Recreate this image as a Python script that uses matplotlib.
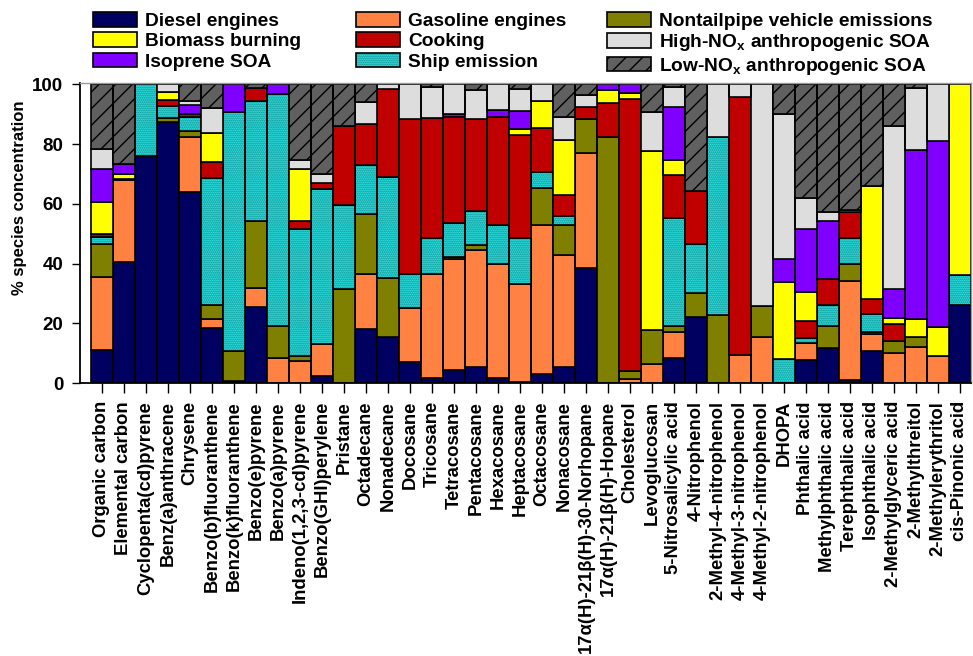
import numpy as np
import matplotlib.pyplot as plt
from matplotlib.patches import Patch

plt.rcParams['font.family'] = ['Liberation Sans', 'DejaVu Sans']
plt.rcParams['font.weight'] = 'bold'
plt.rcParams['mathtext.fontset'] = 'custom'
plt.rcParams['mathtext.rm'] = 'Liberation Sans:bold'
plt.rcParams['mathtext.bf'] = 'Liberation Sans:bold'
plt.rcParams['hatch.linewidth'] = 1.0

species = ['Organic carbon', 'Elemental carbon', 'Cyclopenta(cd)pyrene',
           'Benz(a)anthracene', 'Chrysene', 'Benzo(b)fluoranthene',
           'Benzo(k)fluoranthene', 'Benzo(e)pyrene', 'Benzo(a)pyrene',
           'Indeno(1,2,3-cd)pyrene', 'Benzo(GHI)perylene', 'Pristane',
           'Octadecane', 'Nonadecane', 'Docosane', 'Tricosane', 'Tetracosane',
           'Pentacosane', 'Hexacosane', 'Heptacosane', 'Octacosane',
           'Nonacosane', '17α(H)-21β(H)-30-Norhopane', '17α(H)-21β(H)-Hopane',
           'Cholesterol', 'Levoglucosan', '5-Nitrosalicylic acid',
           '4-Nitrophenol', '2-Methyl-4-nitrophenol', '4-Methyl-3-nitrophenol',
           '4-Methyl-2-nitrophenol', 'DHOPA', 'Phthalic acid',
           'Methylphthalic acid', 'Terephthalic acid', 'Isophthalic acid',
           '2-Methylglyceric acid', '2-Methylthreitol', '2-Methylerythritol',
           'cis-Pinonic acid']

# % contribution of each source, stacked bottom -> top
diesel = [11.2, 40.5, 76.1, 87.5, 63.8, 18.3, 0.8, 25.4, 0, 0,
          2.5, 0, 18.1, 15.3, 6.9, 1.6, 4.5, 5.3, 1.6, 0.4,
          3.0, 5.5, 38.6, 0, 0, 0, 8.3, 22.0, 0, 0,
          0, 0, 7.7, 11.6, 1.0, 10.6, 0, 0, 0, 26.2]
gasoline = [24.3, 27.4, 0, 0, 18.5, 3.2, 0, 6.4, 8.3, 7.5,
            10.6, 0, 18.3, 0, 18.3, 34.8, 37.1, 39.1, 38.1, 32.6,
            50.0, 37.2, 38.5, 0, 1.3, 6.4, 8.9, 0, 0, 9.5,
            15.5, 0, 5.6, 0, 33.0, 5.8, 10.1, 12.0, 9.2, 0]
nontailpipe = [11.1, 0.3, 0, 1.1, 2.0, 4.7, 9.9, 22.5, 10.7, 1.7,
               0, 31.5, 20.3, 19.8, 0, 0, 0.5, 1.9, 0, 0,
               12.3, 10.3, 11.3, 82.4, 2.8, 11.4, 1.8, 8.2, 22.8, 0,
               10.2, 0, 0, 7.4, 5.7, 0.8, 3.8, 3.5, 0, 0]
ship = [2.3, 0, 23.9, 4.2, 4.8, 42.3, 79.9, 40.1, 77.6, 42.5,
        52.0, 28.0, 16.2, 33.9, 11.4, 12.1, 11.3, 11.2, 13.1, 15.5,
        5.2, 2.8, 0, 0, 0, 0, 36.3, 16.4, 59.6, 0,
        0, 8.1, 1.8, 7.2, 9.0, 6.0, 0, 0, 0, 10.0]
cooking = [1.1, 0, 0, 1.9, 0.8, 5.5, 0, 4.3, 0, 2.6,
           1.7, 26.6, 13.8, 29.4, 51.8, 40.3, 35.7, 30.8, 36.3, 34.5,
           15.0, 7.1, 3.9, 11.4, 90.9, 0, 14.5, 17.6, 0, 86.4,
           0, 0, 5.8, 8.5, 8.6, 5.0, 5.9, 0, 0, 0]
biomass = [10.6, 1.7, 0, 2.8, 0, 9.6, 0, 0, 0, 17.3,
           0, 0, 0, 0, 0, 0, 0, 0, 0, 2.2,
           8.9, 18.6, 0, 4.3, 2.0, 59.8, 5.0, 0, 0, 0,
           0, 25.7, 9.5, 0, 0.6, 37.7, 2.0, 6.0, 9.5, 63.8]
isoprene = [10.9, 3.4, 0, 0, 3.2, 0, 9.4, 0, 3.4, 0,
            0, 0, 0, 0, 0, 0, 0.9, 0, 2.3, 5.9,
            0, 0, 0, 1.9, 3.0, 0, 17.5, 0, 0, 0,
            0, 7.8, 21.3, 19.4, 0, 0, 9.7, 56.5, 62.4, 0]
high_nox = [6.8, 0, 0, 2.5, 1.3, 8.6, 0, 0, 0, 3.0,
            3.3, 0, 7.5, 1.6, 11.6, 10.3, 10.0, 9.8, 8.6, 7.3,
            5.6, 7.6, 4.1, 0, 0, 13.2, 6.9, 0, 17.6, 4.1,
            74.3, 48.4, 10.3, 3.2, 0, 0, 54.6, 20.7, 18.9, 0]
low_nox = [21.7, 26.7, 0, 0, 5.6, 7.8, 0, 1.3, 0, 25.4,
           29.9, 13.9, 5.8, 0, 0, 0.9, 0, 1.9, 0, 1.6,
           0, 10.9, 3.6, 0, 0, 9.2, 0.8, 35.8, 0, 0,
           0, 10.0, 38.0, 42.7, 42.1, 34.1, 13.9, 1.3, 0, 0]

# name, values, face colour, hatch, hatch colour
sources = [
    ('Diesel engines', diesel, '#000060', None, '#000060'),
    ('Gasoline engines', gasoline, '#FF8243', None, '#FF8243'),
    ('Nontailpipe vehicle emissions', nontailpipe, '#808000', None, '#808000'),
    ('Ship emission', ship, '#33FFFF', '........', '#0E7272'),
    ('Cooking', cooking, '#C00000', None, '#C00000'),
    ('Biomass burning', biomass, '#FFFF00', None, '#FFFF00'),
    ('Isoprene SOA', isoprene, '#8000FF', None, '#8000FF'),
    (r'High-NO$_{\mathbf{x}}$ anthropogenic SOA', high_nox, '#DDDDDD', None, '#DDDDDD'),
    (r'Low-NO$_{\mathbf{x}}$ anthropogenic SOA', low_nox, '#606060', '//', 'black'),
]

fig = plt.figure(figsize=(9.73, 6.56), dpi=100)
ax = fig.add_axes([80 / 973, 273 / 656, 891 / 973, 300.5 / 656])

x = np.arange(len(species))
bottom = np.zeros(len(species))
handles = {}
for name, vals, fc, hatch, hc in sources:
    vals = np.array(vals, dtype=float)
    m = vals > 0
    ax.bar(x[m], vals[m], 1.0, bottom=bottom[m], facecolor=fc,
           edgecolor=hc, hatch=hatch, linewidth=0)
    ax.bar(x[m], vals[m], 1.0, bottom=bottom[m], fill=False,
           edgecolor='black', linewidth=1.2)
    bottom += vals
    fill = Patch(facecolor=fc, edgecolor=hc, hatch=hatch, linewidth=0)
    edge = Patch(fill=False, edgecolor='black', linewidth=1.2)
    handles[name] = (fill, edge)

ax.set_xlim(-1.0, 39.5)
ax.set_ylim(0, 100.6)
ax.set_yticks([0, 20, 40, 60, 80, 100])
ax.set_xticks(x)
ax.set_xticklabels(species, rotation=90, fontsize=13.3)
ax.tick_params(axis='x', direction='out', length=7, width=1.0, pad=6)
ax.tick_params(axis='y', direction='out', length=6, width=1.0, pad=6,
               labelsize=13.5)
ax.set_ylabel('% species concentration', fontsize=12, fontweight='bold')
ax.yaxis.set_label_coords(-0.059, 0.615)

for side in ['top', 'right']:
    ax.spines[side].set_color('#999999')
    ax.spines[side].set_linewidth(1.0)
for side in ['left', 'bottom']:
    ax.spines[side].set_linewidth(1.3)

names = [s[0] for s in sources]
columns = [[names[0], names[5], names[6]],
           [names[1], names[4], names[3]],
           [names[2], names[7], names[8]]]
col_x = [93, 356, 607]
for cx, col in zip(col_x, columns):
    fig.legend([handles[n] for n in col], col, loc='upper left',
               bbox_to_anchor=(cx / 973, 1 - 12 / 656), frameon=False,
               borderpad=0, borderaxespad=0, handlelength=2.3,
               handleheight=0.8, handletextpad=0.42, labelspacing=0.12,
               prop={'weight': 'bold', 'size': 13.8})

fig.savefig('out.png', dpi=100)
